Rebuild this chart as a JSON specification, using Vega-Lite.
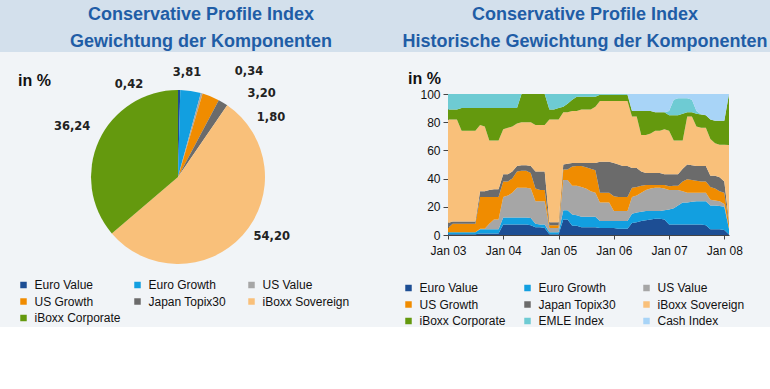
{
  "$schema": "https://vega.github.io/schema/vega-lite/v6.json",
  "background": "#F1F4F7",
  "padding": 0,
  "config": {
    "view": {"stroke": null},
    "font": "Liberation Sans",
    "locale": {"number": {"decimal": ",", "thousands": ".", "grouping": [3], "currency": ["", " €"]}}
  },
  "datasets": {
    "ranks": [
      {"series": "Euro Value", "rank": 1},
      {"series": "Euro Growth", "rank": 2},
      {"series": "US Value", "rank": 3},
      {"series": "US Growth", "rank": 4},
      {"series": "Japan Topix30", "rank": 5},
      {"series": "iBoxx Sovereign", "rank": 6},
      {"series": "iBoxx Corporate", "rank": 7},
      {"series": "EMLE Index", "rank": 8},
      {"series": "Cash Index", "rank": 9}
    ],
    "pie": [
      {"series": "Euro Value", "value": 0.42},
      {"series": "Euro Growth", "value": 3.81},
      {"series": "US Value", "value": 0.34},
      {"series": "US Growth", "value": 3.2},
      {"series": "Japan Topix30", "value": 1.8},
      {"series": "iBoxx Sovereign", "value": 54.2},
      {"series": "iBoxx Corporate", "value": 36.24}
    ],
    "hist": [
      {"date":"2003-01-01","Euro Value":0.5,"Euro Growth":1.5,"US Value":0,"US Growth":3,"Japan Topix30":3.5,"iBoxx Sovereign":73.5,"iBoxx Corporate":7,"EMLE Index":11,"Cash Index":0},
      {"date":"2003-02-01","Euro Value":0.5,"Euro Growth":1.5,"US Value":0,"US Growth":6,"Japan Topix30":1.5,"iBoxx Sovereign":72.5,"iBoxx Corporate":7,"EMLE Index":11,"Cash Index":0},
      {"date":"2003-03-01","Euro Value":0.5,"Euro Growth":1.5,"US Value":0,"US Growth":6,"Japan Topix30":1.5,"iBoxx Sovereign":72.5,"iBoxx Corporate":7,"EMLE Index":11,"Cash Index":0},
      {"date":"2003-04-01","Euro Value":0.5,"Euro Growth":1.5,"US Value":0,"US Growth":6,"Japan Topix30":1.5,"iBoxx Sovereign":64.5,"iBoxx Corporate":16,"EMLE Index":10,"Cash Index":0},
      {"date":"2003-05-01","Euro Value":0.5,"Euro Growth":1.5,"US Value":0,"US Growth":6,"Japan Topix30":1.5,"iBoxx Sovereign":64.5,"iBoxx Corporate":16,"EMLE Index":10,"Cash Index":0},
      {"date":"2003-06-01","Euro Value":0.5,"Euro Growth":1.5,"US Value":0,"US Growth":6,"Japan Topix30":1.5,"iBoxx Sovereign":64.5,"iBoxx Corporate":16,"EMLE Index":10,"Cash Index":0},
      {"date":"2003-07-01","Euro Value":0.5,"Euro Growth":1.5,"US Value":0,"US Growth":6,"Japan Topix30":1.5,"iBoxx Sovereign":64.5,"iBoxx Corporate":16,"EMLE Index":10,"Cash Index":0},
      {"date":"2003-08-01","Euro Value":1,"Euro Growth":3,"US Value":0.5,"US Growth":22.5,"Japan Topix30":4,"iBoxx Sovereign":47,"iBoxx Corporate":12,"EMLE Index":10,"Cash Index":0},
      {"date":"2003-09-01","Euro Value":1,"Euro Growth":3,"US Value":0.5,"US Growth":22.5,"Japan Topix30":4,"iBoxx Sovereign":46,"iBoxx Corporate":13,"EMLE Index":10,"Cash Index":0},
      {"date":"2003-10-01","Euro Value":1,"Euro Growth":3,"US Value":4,"US Growth":19,"Japan Topix30":5,"iBoxx Sovereign":35,"iBoxx Corporate":23,"EMLE Index":10,"Cash Index":0},
      {"date":"2003-11-01","Euro Value":1,"Euro Growth":3,"US Value":7,"US Growth":16,"Japan Topix30":5.5,"iBoxx Sovereign":34.5,"iBoxx Corporate":23,"EMLE Index":10,"Cash Index":0},
      {"date":"2003-12-01","Euro Value":1,"Euro Growth":3,"US Value":7,"US Growth":16,"Japan Topix30":5.5,"iBoxx Sovereign":34.5,"iBoxx Corporate":23,"EMLE Index":10,"Cash Index":0},
      {"date":"2004-01-01","Euro Value":7.5,"Euro Growth":5,"US Value":14.5,"US Growth":11,"Japan Topix30":5,"iBoxx Sovereign":32,"iBoxx Corporate":15,"EMLE Index":10,"Cash Index":0},
      {"date":"2004-02-01","Euro Value":7.5,"Euro Growth":5,"US Value":15.5,"US Growth":10,"Japan Topix30":5,"iBoxx Sovereign":33,"iBoxx Corporate":14,"EMLE Index":10,"Cash Index":0},
      {"date":"2004-03-01","Euro Value":7.5,"Euro Growth":5,"US Value":17.5,"US Growth":10,"Japan Topix30":5,"iBoxx Sovereign":32,"iBoxx Corporate":13,"EMLE Index":10,"Cash Index":0},
      {"date":"2004-04-01","Euro Value":7.5,"Euro Growth":5,"US Value":21,"US Growth":11.5,"Japan Topix30":4,"iBoxx Sovereign":30,"iBoxx Corporate":11,"EMLE Index":10,"Cash Index":0},
      {"date":"2004-05-01","Euro Value":7.5,"Euro Growth":5,"US Value":21,"US Growth":12,"Japan Topix30":4,"iBoxx Sovereign":30.5,"iBoxx Corporate":20,"EMLE Index":0,"Cash Index":0},
      {"date":"2004-06-01","Euro Value":7.5,"Euro Growth":5,"US Value":21,"US Growth":12,"Japan Topix30":4,"iBoxx Sovereign":30.5,"iBoxx Corporate":20,"EMLE Index":0,"Cash Index":0},
      {"date":"2004-07-01","Euro Value":7,"Euro Growth":5,"US Value":21,"US Growth":11,"Japan Topix30":5,"iBoxx Sovereign":31,"iBoxx Corporate":20,"EMLE Index":0,"Cash Index":0},
      {"date":"2004-08-01","Euro Value":5.5,"Euro Growth":2.5,"US Value":16,"US Growth":9,"Japan Topix30":12,"iBoxx Sovereign":33,"iBoxx Corporate":22,"EMLE Index":0,"Cash Index":0},
      {"date":"2004-09-01","Euro Value":5.5,"Euro Growth":2,"US Value":16.5,"US Growth":8,"Japan Topix30":13,"iBoxx Sovereign":33,"iBoxx Corporate":22,"EMLE Index":0,"Cash Index":0},
      {"date":"2004-10-01","Euro Value":5,"Euro Growth":2.5,"US Value":16.5,"US Growth":8,"Japan Topix30":13,"iBoxx Sovereign":33,"iBoxx Corporate":22,"EMLE Index":0,"Cash Index":0},
      {"date":"2004-11-01","Euro Value":0.5,"Euro Growth":1.5,"US Value":3,"US Growth":2,"Japan Topix30":2,"iBoxx Sovereign":73,"iBoxx Corporate":7,"EMLE Index":11,"Cash Index":0},
      {"date":"2004-12-01","Euro Value":0.5,"Euro Growth":1.5,"US Value":3,"US Growth":2,"Japan Topix30":2,"iBoxx Sovereign":73,"iBoxx Corporate":7,"EMLE Index":11,"Cash Index":0},
      {"date":"2005-01-01","Euro Value":0.5,"Euro Growth":1.5,"US Value":3,"US Growth":2,"Japan Topix30":2,"iBoxx Sovereign":73,"iBoxx Corporate":8,"EMLE Index":10,"Cash Index":0},
      {"date":"2005-02-01","Euro Value":11,"Euro Growth":6.5,"US Value":21.5,"US Growth":7.5,"Japan Topix30":3.5,"iBoxx Sovereign":37,"iBoxx Corporate":4,"EMLE Index":9,"Cash Index":0},
      {"date":"2005-03-01","Euro Value":11,"Euro Growth":6.5,"US Value":21.5,"US Growth":7.5,"Japan Topix30":4,"iBoxx Sovereign":36.5,"iBoxx Corporate":6,"EMLE Index":7,"Cash Index":0},
      {"date":"2005-04-01","Euro Value":6.5,"Euro Growth":8,"US Value":20.5,"US Growth":13.5,"Japan Topix30":2.5,"iBoxx Sovereign":37,"iBoxx Corporate":8,"EMLE Index":4,"Cash Index":0},
      {"date":"2005-05-01","Euro Value":6.5,"Euro Growth":7.5,"US Value":21,"US Growth":14,"Japan Topix30":2,"iBoxx Sovereign":37,"iBoxx Corporate":10,"EMLE Index":2,"Cash Index":0},
      {"date":"2005-06-01","Euro Value":5.5,"Euro Growth":7.5,"US Value":21,"US Growth":15,"Japan Topix30":2,"iBoxx Sovereign":38,"iBoxx Corporate":9,"EMLE Index":2,"Cash Index":0},
      {"date":"2005-07-01","Euro Value":5.5,"Euro Growth":7.5,"US Value":20,"US Growth":15,"Japan Topix30":3,"iBoxx Sovereign":38,"iBoxx Corporate":9,"EMLE Index":2,"Cash Index":0},
      {"date":"2005-08-01","Euro Value":5.5,"Euro Growth":7.5,"US Value":18,"US Growth":16,"Japan Topix30":4,"iBoxx Sovereign":38,"iBoxx Corporate":9,"EMLE Index":2,"Cash Index":0},
      {"date":"2005-09-01","Euro Value":5.5,"Euro Growth":7.5,"US Value":17,"US Growth":16,"Japan Topix30":5,"iBoxx Sovereign":40,"iBoxx Corporate":7,"EMLE Index":2,"Cash Index":0},
      {"date":"2005-10-01","Euro Value":5,"Euro Growth":5,"US Value":13,"US Growth":7,"Japan Topix30":22,"iBoxx Sovereign":43,"iBoxx Corporate":4.5,"EMLE Index":0.5,"Cash Index":0},
      {"date":"2005-11-01","Euro Value":5,"Euro Growth":5,"US Value":13,"US Growth":7,"Japan Topix30":22,"iBoxx Sovereign":43,"iBoxx Corporate":4.5,"EMLE Index":0.5,"Cash Index":0},
      {"date":"2005-12-01","Euro Value":5,"Euro Growth":5,"US Value":13,"US Growth":7,"Japan Topix30":22,"iBoxx Sovereign":43,"iBoxx Corporate":4.5,"EMLE Index":0.5,"Cash Index":0},
      {"date":"2006-01-01","Euro Value":5,"Euro Growth":5,"US Value":7,"US Growth":10.5,"Japan Topix30":23.5,"iBoxx Sovereign":44,"iBoxx Corporate":4.5,"EMLE Index":0.5,"Cash Index":0},
      {"date":"2006-02-01","Euro Value":4.5,"Euro Growth":5.5,"US Value":7,"US Growth":10,"Japan Topix30":23,"iBoxx Sovereign":45,"iBoxx Corporate":4.5,"EMLE Index":0.5,"Cash Index":0},
      {"date":"2006-03-01","Euro Value":4.5,"Euro Growth":5.5,"US Value":7,"US Growth":10,"Japan Topix30":22,"iBoxx Sovereign":46,"iBoxx Corporate":4.5,"EMLE Index":0.5,"Cash Index":0},
      {"date":"2006-04-01","Euro Value":4.5,"Euro Growth":5.5,"US Value":7,"US Growth":10,"Japan Topix30":22,"iBoxx Sovereign":46,"iBoxx Corporate":4.5,"EMLE Index":0.5,"Cash Index":0},
      {"date":"2006-05-01","Euro Value":8.5,"Euro Growth":6.5,"US Value":12,"US Growth":6.5,"Japan Topix30":14,"iBoxx Sovereign":36.5,"iBoxx Corporate":4,"EMLE Index":0,"Cash Index":12},
      {"date":"2006-06-01","Euro Value":9,"Euro Growth":7,"US Value":12,"US Growth":6,"Japan Topix30":13.5,"iBoxx Sovereign":36.5,"iBoxx Corporate":4,"EMLE Index":0,"Cash Index":12},
      {"date":"2006-07-01","Euro Value":10,"Euro Growth":6.5,"US Value":13.5,"US Growth":5,"Japan Topix30":10,"iBoxx Sovereign":26,"iBoxx Corporate":17,"EMLE Index":0,"Cash Index":12},
      {"date":"2006-08-01","Euro Value":10.5,"Euro Growth":6.5,"US Value":15,"US Growth":3.5,"Japan Topix30":8.5,"iBoxx Sovereign":27,"iBoxx Corporate":17,"EMLE Index":0,"Cash Index":12},
      {"date":"2006-09-01","Euro Value":11,"Euro Growth":6,"US Value":16,"US Growth":2.5,"Japan Topix30":8.5,"iBoxx Sovereign":28,"iBoxx Corporate":16,"EMLE Index":0,"Cash Index":12},
      {"date":"2006-10-01","Euro Value":11.5,"Euro Growth":5.5,"US Value":16.5,"US Growth":2,"Japan Topix30":8.5,"iBoxx Sovereign":30,"iBoxx Corporate":13,"EMLE Index":0,"Cash Index":13},
      {"date":"2006-11-01","Euro Value":11.5,"Euro Growth":5.5,"US Value":16.5,"US Growth":2,"Japan Topix30":8.5,"iBoxx Sovereign":30,"iBoxx Corporate":13,"EMLE Index":0,"Cash Index":13},
      {"date":"2006-12-01","Euro Value":11,"Euro Growth":6.5,"US Value":15.5,"US Growth":2.5,"Japan Topix30":7.5,"iBoxx Sovereign":32,"iBoxx Corporate":12,"EMLE Index":0,"Cash Index":13},
      {"date":"2007-01-01","Euro Value":7.5,"Euro Growth":10.5,"US Value":14,"US Growth":2.5,"Japan Topix30":8.5,"iBoxx Sovereign":31,"iBoxx Corporate":11,"EMLE Index":3,"Cash Index":12},
      {"date":"2007-02-01","Euro Value":7.5,"Euro Growth":11.5,"US Value":13,"US Growth":3,"Japan Topix30":8,"iBoxx Sovereign":24,"iBoxx Corporate":18,"EMLE Index":11,"Cash Index":4},
      {"date":"2007-03-01","Euro Value":7.5,"Euro Growth":13.5,"US Value":11,"US Growth":3,"Japan Topix30":8,"iBoxx Sovereign":24,"iBoxx Corporate":18,"EMLE Index":12,"Cash Index":3},
      {"date":"2007-04-01","Euro Value":7.5,"Euro Growth":15.5,"US Value":8,"US Growth":7,"Japan Topix30":9,"iBoxx Sovereign":20,"iBoxx Corporate":19,"EMLE Index":11,"Cash Index":3},
      {"date":"2007-05-01","Euro Value":7.5,"Euro Growth":15.5,"US Value":7,"US Growth":9.5,"Japan Topix30":10.5,"iBoxx Sovereign":34,"iBoxx Corporate":3,"EMLE Index":10,"Cash Index":3},
      {"date":"2007-06-01","Euro Value":7.5,"Euro Growth":16,"US Value":6.5,"US Growth":9,"Japan Topix30":10.5,"iBoxx Sovereign":34.5,"iBoxx Corporate":3,"EMLE Index":9,"Cash Index":4},
      {"date":"2007-07-01","Euro Value":7.5,"Euro Growth":16.5,"US Value":6,"US Growth":8.5,"Japan Topix30":10.5,"iBoxx Sovereign":28,"iBoxx Corporate":9,"EMLE Index":2,"Cash Index":12},
      {"date":"2007-08-01","Euro Value":7.5,"Euro Growth":16.5,"US Value":6,"US Growth":8,"Japan Topix30":11,"iBoxx Sovereign":27,"iBoxx Corporate":9.5,"EMLE Index":0,"Cash Index":14.5},
      {"date":"2007-09-01","Euro Value":7,"Euro Growth":17,"US Value":6,"US Growth":8,"Japan Topix30":11,"iBoxx Sovereign":27,"iBoxx Corporate":9,"EMLE Index":0,"Cash Index":15},
      {"date":"2007-10-01","Euro Value":4,"Euro Growth":17,"US Value":4,"US Growth":9,"Japan Topix30":8,"iBoxx Sovereign":26,"iBoxx Corporate":14,"EMLE Index":0,"Cash Index":18},
      {"date":"2007-11-01","Euro Value":4,"Euro Growth":17,"US Value":3.5,"US Growth":8.5,"Japan Topix30":9,"iBoxx Sovereign":23,"iBoxx Corporate":16,"EMLE Index":0,"Cash Index":19},
      {"date":"2007-12-01","Euro Value":4,"Euro Growth":16.5,"US Value":3.5,"US Growth":7,"Japan Topix30":10,"iBoxx Sovereign":23,"iBoxx Corporate":17,"EMLE Index":0,"Cash Index":19},
      {"date":"2008-01-01","Euro Value":3.5,"Euro Growth":16.5,"US Value":2,"US Growth":8,"Japan Topix30":8,"iBoxx Sovereign":26,"iBoxx Corporate":17,"EMLE Index":0,"Cash Index":19},
      {"date":"2008-02-01","Euro Value":0.42,"Euro Growth":3.81,"US Value":0.34,"US Growth":3.2,"Japan Topix30":1.8,"iBoxx Sovereign":54.2,"iBoxx Corporate":36.24,"EMLE Index":0,"Cash Index":0}
    ]
  },
  "resolve": {"scale": {"color": "independent"}, "legend": {"color": "independent"}},
  "columns": 2,
  "align": "each",
  "bounds": "flush",
  "spacing": {"row": 42, "column": 0},
  "concat": [
    {
      "width": 448,
      "height": 52,
      "view": {"fill": "#D3E0EC", "stroke": null},
      "data": {"values": [{"line": 1, "text": "Conservative Profile Index"}, {"line": 2, "text": "Gewichtung der Komponenten"}]},
      "mark": {"type": "text", "font": "Liberation Sans", "fontWeight": "bold", "fontSize": 18, "color": "#1F5DA6", "dx": -23, "dy": 2.5, "baseline": "middle", "align": "center"},
      "encoding": {
        "y": {"field": "line", "type": "ordinal", "scale": {"type": "point", "padding": 0.463}, "axis": null},
        "text": {"field": "text"}
      }
    },
    {
      "width": 322,
      "height": 52,
      "view": {"fill": "#D3E0EC", "stroke": null},
      "data": {"values": [{"line": 1, "text": "Conservative Profile Index"}, {"line": 2, "text": "Historische Gewichtung der Komponenten"}]},
      "mark": {"type": "text", "font": "Liberation Sans", "fontWeight": "bold", "fontSize": 18, "color": "#1F5DA6", "dx": -24, "dy": 2.5, "baseline": "middle", "align": "center"},
      "encoding": {
        "y": {"field": "line", "type": "ordinal", "scale": {"type": "point", "padding": 0.463}, "axis": null},
        "text": {"field": "text"}
      }
    },
    {
      "width": 356,
      "height": 166,
      "title": {"text": "in %", "anchor": "start", "frame": "group", "fontSize": 16, "fontWeight": "bold", "font": "Liberation Sans", "color": "#111111", "dx": 18, "dy": 48, "offset": 6},
      "data": {"name": "pie"},
      "transform": [{"lookup": "series", "from": {"data": {"name": "ranks"}, "key": "series", "fields": ["rank"]}}],
      "encoding": {
        "theta": {"field": "value", "type": "quantitative", "stack": true},
        "order": {"field": "rank", "type": "quantitative", "sort": "ascending"},
        "color": {
          "field": "series", "type": "nominal",
          "scale": {
            "domain": ["Euro Value", "Euro Growth", "US Value", "US Growth", "Japan Topix30", "iBoxx Sovereign", "iBoxx Corporate"],
            "range": ["#1D4E94", "#129FE0", "#A6A6A6", "#F08C00", "#6B6B6B", "#F9C07A", "#64990E"]
          },
          "legend": {"orient": "none", "legendX": 17.5, "legendY": 185, "columns": 3, "direction": "horizontal", "gridAlign": "all", "columnPadding": 10, "rowPadding": 4.5, "symbolType": "square", "symbolSize": 42, "symbolStrokeWidth": 0, "labelFontSize": 12, "labelFont": "Liberation Sans", "labelColor": "#111111", "labelOffset": 5, "title": null, "padding": 0}
        }
      },
      "layer": [
        {"mark": {"type": "arc", "outerRadius": 87}},
        {"mark": {"type": "text", "radius": 110, "font": "DejaVu Sans", "fontWeight": "bold", "fontSize": 11.5, "align": "center", "baseline": "middle", "dx": -50.5, "dy": 18},
         "encoding": {"text": {"field": "value", "type": "quantitative", "format": ".2f"}, "color": {"value": "#222222"}, "detail": {"field": "series", "type": "nominal"}, "opacity": {"condition": {"test": "datum.series === 'Euro Value'", "value": 1}, "value": 0}}},
        {"mark": {"type": "text", "radius": 110, "font": "DejaVu Sans", "fontWeight": "bold", "fontSize": 11.5, "align": "center", "baseline": "middle", "dx": -7, "dy": 5},
         "encoding": {"text": {"field": "value", "type": "quantitative", "format": ".2f"}, "color": {"value": "#222222"}, "detail": {"field": "series", "type": "nominal"}, "opacity": {"condition": {"test": "datum.series === 'Euro Growth'", "value": 1}, "value": 0}}},
        {"mark": {"type": "text", "radius": 110, "font": "DejaVu Sans", "fontWeight": "bold", "fontSize": 11.5, "align": "center", "baseline": "middle", "dx": 41, "dy": 0.5},
         "encoding": {"text": {"field": "value", "type": "quantitative", "format": ".2f"}, "color": {"value": "#222222"}, "detail": {"field": "series", "type": "nominal"}, "opacity": {"condition": {"test": "datum.series === 'US Value'", "value": 1}, "value": 0}}},
        {"mark": {"type": "text", "radius": 110, "font": "DejaVu Sans", "fontWeight": "bold", "fontSize": 11.5, "align": "center", "baseline": "middle", "dx": 42, "dy": 19},
         "encoding": {"text": {"field": "value", "type": "quantitative", "format": ".2f"}, "color": {"value": "#222222"}, "detail": {"field": "series", "type": "nominal"}, "opacity": {"condition": {"test": "datum.series === 'US Growth'", "value": 1}, "value": 0}}},
        {"mark": {"type": "text", "radius": 110, "font": "DejaVu Sans", "fontWeight": "bold", "fontSize": 11.5, "align": "center", "baseline": "middle", "dx": 36, "dy": 35},
         "encoding": {"text": {"field": "value", "type": "quantitative", "format": ".2f"}, "color": {"value": "#222222"}, "detail": {"field": "series", "type": "nominal"}, "opacity": {"condition": {"test": "datum.series === 'Japan Topix30'", "value": 1}, "value": 0}}},
        {"mark": {"type": "text", "radius": 110, "font": "DejaVu Sans", "fontWeight": "bold", "fontSize": 11.5, "align": "center", "baseline": "middle", "dx": 12, "dy": -14},
         "encoding": {"text": {"field": "value", "type": "quantitative", "format": ".2f"}, "color": {"value": "#222222"}, "detail": {"field": "series", "type": "nominal"}, "opacity": {"condition": {"test": "datum.series === 'iBoxx Sovereign'", "value": 1}, "value": 0}}},
        {"mark": {"type": "text", "radius": 110, "font": "DejaVu Sans", "fontWeight": "bold", "fontSize": 11.5, "align": "center", "baseline": "middle", "dx": -6, "dy": -4},
         "encoding": {"text": {"field": "value", "type": "quantitative", "format": ".2f"}, "color": {"value": "#222222"}, "detail": {"field": "series", "type": "nominal"}, "opacity": {"condition": {"test": "datum.series === 'iBoxx Corporate'", "value": 1}, "value": 0}}}
      ]
    },
    {
      "width": 281,
      "height": 141,
      "title": {"text": "in %", "anchor": "start", "frame": "group", "fontSize": 16, "fontWeight": "bold", "font": "Liberation Sans", "color": "#111111", "dx": -40, "dy": 7, "offset": 8},
      "data": {"name": "hist"},
      "transform": [
        {"fold": ["Euro Value", "Euro Growth", "US Value", "US Growth", "Japan Topix30", "iBoxx Sovereign", "iBoxx Corporate", "EMLE Index", "Cash Index"], "as": ["series", "value"]},
        {"lookup": "series", "from": {"data": {"name": "ranks"}, "key": "series", "fields": ["rank"]}}
      ],
      "mark": {"type": "area", "interpolate": "linear"},
      "encoding": {
        "x": {"field": "date", "type": "temporal", "scale": {"nice": false},
              "axis": {"title": null, "format": "%b %y", "tickCount": {"interval": "year", "step": 1}, "labelFontSize": 12, "labelFont": "Liberation Sans", "labelColor": "#111111", "domainColor": "#444444", "tickColor": "#444444", "tickSize": 4, "labelPadding": 6, "grid": false, "labelFlush": false, "labelOverlap": false}},
        "y": {"field": "value", "type": "quantitative", "stack": "zero", "scale": {"domain": [0, 100], "nice": false},
              "axis": {"title": null, "values": [0, 20, 40, 60, 80, 100], "labelFontSize": 12, "labelFont": "Liberation Sans", "labelColor": "#111111", "domainColor": "#444444", "tickColor": "#444444", "tickSize": 5, "labelPadding": 3, "grid": false}},
        "order": {"field": "rank", "type": "quantitative", "sort": "ascending"},
        "color": {
          "field": "series", "type": "nominal",
          "scale": {
            "domain": ["Euro Value", "Euro Growth", "US Value", "US Growth", "Japan Topix30", "iBoxx Sovereign", "iBoxx Corporate", "EMLE Index", "Cash Index"],
            "range": ["#1D4E94", "#129FE0", "#A6A6A6", "#F08C00", "#6B6B6B", "#F9C07A", "#64990E", "#6ECBD3", "#A8D4F7"]
          },
          "legend": {"orient": "none", "legendX": -45.5, "legendY": 188, "columns": 3, "direction": "horizontal", "gridAlign": "all", "columnPadding": 15, "rowPadding": 4.5, "symbolType": "square", "symbolSize": 42, "symbolStrokeWidth": 0, "labelFontSize": 12, "labelFont": "Liberation Sans", "labelColor": "#111111", "labelOffset": 5, "title": null, "padding": 0}
        }
      }
    }
  ]
}
